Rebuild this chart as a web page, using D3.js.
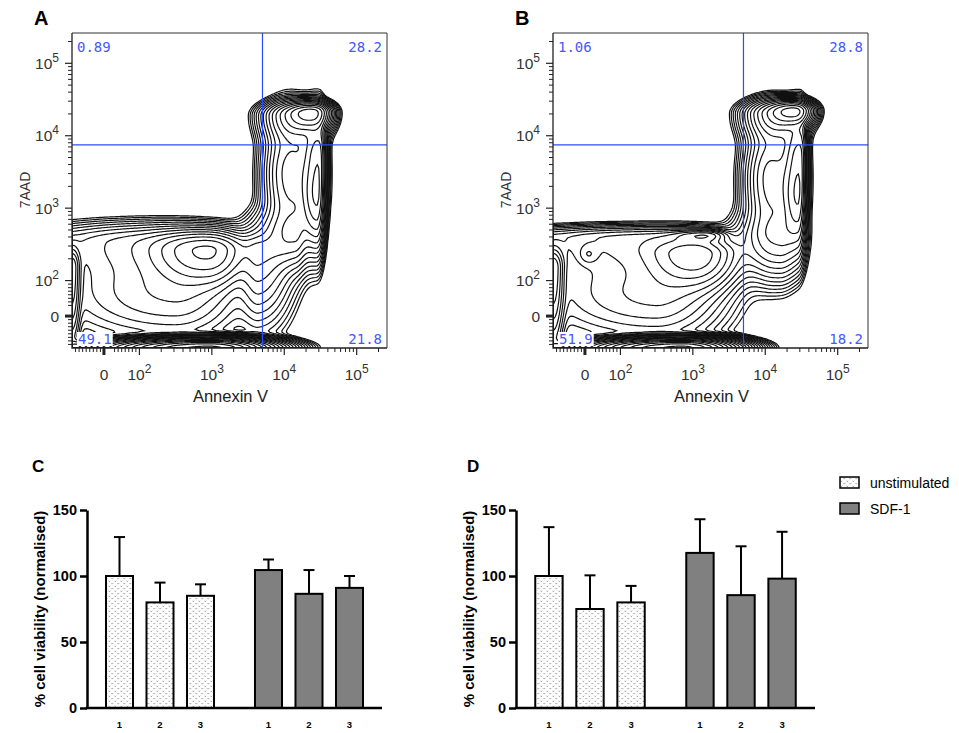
<!DOCTYPE html>
<html>
<head>
<meta charset="utf-8">
<script src="https://cdn.jsdelivr.net/npm/d3@7"></script>
<style>
  body { margin: 0; background: #fff; }
  svg { display: block; }
</style>
</head>
<body>
<svg id="fig" width="959" height="733"></svg>
<script>
// ---------------- Flow cytometry (Annexin V vs 7AAD) ----------------
// Quadrant gates (fluorescence units) and quadrant percentages [UL, UR, LL, LR]
const gateAnnexin = 5000;
const gate7AAD = 7500;
const quadA = [0.89, 28.2, 49.1, 21.8];
const quadB = [1.06, 28.8, 51.9, 18.2];

// Populations: centre (Annexin V, 7AAD), spread in decades [low side, high side], relative weight
// order: dead peak, dead cap, column ridge (upper, lower), column left, column foot,
//        early-apoptotic/live cluster, lower plateau, upper shoulder, axis floor, left edge, neck
const A_annexin = [25000, 15000, 30000, 28000, 12000, 14000, 900, 300, 150, 900, -90, 4500];
const A_aad     = [21000, 19000, 5000, 1200, 3000, 450, 260, 60, 330, -90, 150, 250];
const A_spreadX = [[0.18,0.12],[0.22,0.18],[0.12,0.05],[0.12,0.05],[0.18,0.20],[0.30,0.10],[0.40,0.28],[0.90,0.50],[0.90,0.60],[0.60,0.38],[0.02,0.06],[0.15,0.25]];
const A_spreadY = [[0.12,0.07],[0.20,0.10],[0.50,0.30],[0.35,0.30],[0.50,0.40],[0.25,0.20],[0.25,0.14],[0.35,0.33],[0.30,0.15],[0.02,0.06],[0.60,0.15],[0.50,0.15]];
const A_weight  = [1.0, 0.5, 0.6, 0.45, 0.3, 0.2, 0.5, 0.12, 0.1, 20.0, 0.3, 0.15];

const B_annexin = [26000, 15000, 30000, 28000, 12000, 16000, 1100, 300, 200, 700, -90, 10, 1500];
const B_aad     = [22000, 20000, 5000, 1200, 2500, 400, 230, 60, 380, -90, 150, 230, 420];
const B_spreadX = [[0.18,0.12],[0.22,0.18],[0.12,0.05],[0.12,0.05],[0.18,0.20],[0.30,0.15],[0.35,0.30],[0.90,0.50],[1.00,0.60],[0.55,0.33],[0.02,0.08],[0.08,0.08],[0.25,0.15]];
const B_spreadY = [[0.10,0.07],[0.20,0.10],[0.50,0.30],[0.35,0.30],[0.50,0.40],[0.30,0.20],[0.25,0.14],[0.35,0.33],[0.30,0.09],[0.02,0.06],[0.60,0.15],[0.08,0.08],[0.05,0.04]];
const B_weight  = [1.0, 0.5, 0.55, 0.45, 0.3, 0.2, 0.42, 0.13, 0.14, 20.0, 0.45, 0.08, 0.25];

// Axis ticks (fluorescence units)
const flowMajorTicks = [0, 1e2, 1e3, 1e4, 1e5];
const flowMajorLabels = [["0", ""], ["10", "2"], ["10", "3"], ["10", "4"], ["10", "5"]];
const flowMinorTicks = [-80, -70, -60, -50, -40, -30, -20, -10, 30, 40, 50, 60, 70, 80, 90,
  200, 300, 400, 500, 600, 700, 800, 900,
  2000, 3000, 4000, 5000, 6000, 7000, 8000, 9000,
  20000, 30000, 40000, 50000, 60000, 70000, 80000, 90000, 200000];
const flowDomain = [-90, 262144];

// ---------------- Cell viability bar charts ----------------
const samples = ["1", "2", "3"];
const conditions = ["unstimulated", "SDF-1"];
const C_unstim = [100, 80, 85];
const C_unstimErr = [29.5, 15, 8.7];
const C_sdf = [104.5, 86.5, 91];
const C_sdfErr = [8, 18, 9];
const D_unstim = [100, 75, 80];
const D_unstimErr = [37, 25.5, 12.5];
const D_sdf = [117.5, 85.5, 98];
const D_sdfErr = [25.5, 37, 35.5];
const viabilityTicks = [0, 50, 100, 150];

const svg = d3.select("#fig");
const defs = svg.append("defs");

// dotted fill used for unstimulated bars
const pat = defs.append("pattern").attr("id", "dots").attr("patternUnits", "userSpaceOnUse")
  .attr("width", 6).attr("height", 5);
pat.append("rect").attr("width", 6).attr("height", 5).attr("fill", "#fff");
pat.append("path").attr("d", "M0.6,0.8 l0.7,0.8 l0.7,-0.8 M3.6,3.3 l0.7,0.8 l0.7,-0.8")
  .attr("fill", "none").attr("stroke", "#555").attr("stroke-width", 0.65);

// Biexponential-style display: log decades above 100, linear near zero
const LIN_SPAN = 0.49;
const fwd = v => v >= 100 ? Math.log10(v) : 2 - LIN_SPAN + LIN_SPAN * v / 100;

function drawFlow(ox, letter, pop, quad, id) {
  const L = 72, T = 33, R = 387, B = 348;
  const g = svg.append("g").attr("transform", `translate(${ox},0)`);
  const xT = d3.scaleLinear().domain(flowDomain.map(fwd)).range([L, R]);
  const yT = d3.scaleLinear().domain(flowDomain.map(fwd)).range([B, T]);
  const sx = v => xT(fwd(v)), sy = v => yT(fwd(v));

  // density grid from the populations
  const cx = pop.annexin.map(fwd), cy = pop.aad.map(fwd);
  const cell = 1.5, nx = Math.ceil((R - L) / cell), ny = Math.ceil((B - T) / cell);
  const vals = new Float64Array(nx * ny);
  for (let j = 0; j < ny; j++) {
    const ty = yT.invert(T + (j + 0.5) * cell);
    for (let i = 0; i < nx; i++) {
      const tx = xT.invert(L + (i + 0.5) * cell);
      let s = 0;
      for (let k = 0; k < pop.weight.length; k++) {
        const dx = tx - cx[k], dy = ty - cy[k];
        const a = dx < 0 ? pop.spreadX[k][0] : pop.spreadX[k][1];
        const b = dy < 0 ? pop.spreadY[k][0] : pop.spreadY[k][1];
        s += pop.weight[k] * Math.exp(-0.5 * (dx * dx / (a * a) + dy * dy / (b * b)));
      }
      vals[j * nx + i] = s;
    }
  }
  // log-spaced density levels
  const levels = d3.range(24).map(i => 18 * Math.pow(0.7, i));
  const contours = d3.contours().size([nx, ny]).thresholds(levels)(vals);
  const proj = d3.geoTransform({ point(x, y) { this.stream.point(L + x * cell, T + y * cell); } });
  const path = d3.geoPath(proj);

  defs.append("clipPath").attr("id", id).append("rect")
    .attr("x", L).attr("y", T).attr("width", R - L).attr("height", B - T);

  g.append("g").attr("clip-path", `url(#${id})`)
    .selectAll("path").data(contours).join("path")
    .attr("d", path).attr("fill", "none").attr("stroke", "#111").attr("stroke-width", 1.2);

  // quadrant gate
  g.append("line").attr("x1", sx(gateAnnexin)).attr("x2", sx(gateAnnexin)).attr("y1", T).attr("y2", B)
    .attr("stroke", "#2b4cff").attr("stroke-width", 1.2);
  g.append("line").attr("x1", L).attr("x2", R).attr("y1", sy(gate7AAD)).attr("y2", sy(gate7AAD))
    .attr("stroke", "#2b4cff").attr("stroke-width", 1.2);

  // frame
  g.append("path").attr("d", `M${L},${T}H${R}V${B}`).attr("fill", "none").attr("stroke", "#333").attr("stroke-width", 1);
  g.append("path").attr("d", `M${L},${T}V${B}H${R}`).attr("fill", "none").attr("stroke", "#222").attr("stroke-width", 1.3);

  // quadrant percentages
  const qpos = [
    { x: L + 5, y: 52, anchor: "start" }, { x: R - 5, y: 52, anchor: "end" },
    { x: L + 6, y: 344, anchor: "start" }, { x: R - 5, y: 344, anchor: "end" }];
  quad.forEach((q, i) => {
    const t = g.append("text").attr("x", qpos[i].x).attr("y", qpos[i].y).attr("text-anchor", qpos[i].anchor)
      .attr("font-family", "DejaVu Sans Mono").attr("font-size", 14).attr("fill", "#4358ff").text(q);
    const bb = t.node().getBBox();
    g.insert("rect", () => t.node()).attr("x", bb.x - 1).attr("y", bb.y + 1).attr("width", bb.width + 2)
      .attr("height", bb.height - 2).attr("fill", "#fff");
  });

  // ticks
  const tickG = g.append("g").attr("stroke", "#222").attr("stroke-width", 1);
  flowMinorTicks.forEach(v => {
    tickG.append("line").attr("x1", L - 4).attr("x2", L).attr("y1", sy(v)).attr("y2", sy(v));
    tickG.append("line").attr("x1", sx(v)).attr("x2", sx(v)).attr("y1", B).attr("y2", B + 4);
  });
  flowMajorTicks.forEach(v => {
    const w = v === 0 ? 3 : 1.2;
    tickG.append("line").attr("x1", L - 7).attr("x2", L).attr("y1", sy(v)).attr("y2", sy(v)).attr("stroke-width", w);
    tickG.append("line").attr("x1", sx(v)).attr("x2", sx(v)).attr("y1", B).attr("y2", B + 7).attr("stroke-width", w);
  });
  flowMajorTicks.forEach((v, i) => {
    const [base, sup] = flowMajorLabels[i];
    const ty = g.append("text").attr("x", 59).attr("y", sy(v) + 5.5).attr("text-anchor", "end")
      .attr("font-family", "Liberation Sans, Arial").attr("font-size", 15.5).attr("fill", "#333").text(base);
    if (sup) ty.append("tspan").attr("dy", -7).attr("font-size", 12).text(sup);
    const tx = g.append("text").attr("x", sx(v)).attr("y", 380).attr("text-anchor", "middle")
      .attr("font-family", "Liberation Sans, Arial").attr("font-size", 15.5).attr("fill", "#333").text(base);
    if (sup) tx.append("tspan").attr("dy", -7).attr("font-size", 12).text(sup);
  });

  g.append("text").attr("x", (L + R) / 2 + 1).attr("y", 402).attr("text-anchor", "middle")
    .attr("font-family", "Liberation Sans, Arial").attr("font-size", 16.5).attr("fill", "#222").text("Annexin V");
  g.append("text").attr("transform", `translate(30,190) rotate(-90)`).attr("text-anchor", "middle")
    .attr("font-family", "Liberation Sans, Arial").attr("font-size", 14).attr("fill", "#333").text("7AAD");
  g.append("text").attr("x", 34).attr("y", 25).attr("font-family", "Liberation Sans, Arial")
    .attr("font-weight", "bold").attr("font-size", 20).attr("fill", "#000").text(letter);
}

drawFlow(0, "A", { annexin: A_annexin, aad: A_aad, spreadX: A_spreadX, spreadY: A_spreadY, weight: A_weight }, quadA, "clipA");
drawFlow(481, "B", { annexin: B_annexin, aad: B_aad, spreadX: B_spreadX, spreadY: B_spreadY, weight: B_weight }, quadB, "clipB");

// ---------------- bar charts ----------------
function drawBars(letter, letterX, x0, x1, unstim, unstimErr, sdf, sdfErr, labelX) {
  const g = svg.append("g");
  const y = d3.scaleLinear().domain([0, 150]).range([708, 510]);
  const groups = d3.scaleBand().domain(conditions).range([x0, x1]).paddingInner(0.275).paddingOuter(0.1275);
  const inner = d3.scaleBand().domain(samples).range([0, groups.bandwidth()]).paddingInner(0.333).paddingOuter(0);
  const fills = { "unstimulated": "url(#dots)", "SDF-1": "#808080" };
  const series = [
    { cond: "unstimulated", vals: unstim, errs: unstimErr },
    { cond: "SDF-1", vals: sdf, errs: sdfErr }];

  series.forEach(s => {
    samples.forEach((smp, i) => {
      const bx = groups(s.cond) + inner(smp), bw = inner.bandwidth(), cxm = bx + bw / 2;
      // error bar (upper)
      g.append("line").attr("x1", cxm).attr("x2", cxm).attr("y1", y(s.vals[i])).attr("y2", y(s.vals[i] + s.errs[i]))
        .attr("stroke", "#000").attr("stroke-width", 2);
      g.append("line").attr("x1", cxm - 5.5).attr("x2", cxm + 5.5).attr("y1", y(s.vals[i] + s.errs[i])).attr("y2", y(s.vals[i] + s.errs[i]))
        .attr("stroke", "#000").attr("stroke-width", 2);
      g.append("rect").attr("x", bx).attr("y", y(s.vals[i])).attr("width", bw).attr("height", y(0) - y(s.vals[i]))
        .attr("fill", fills[s.cond]).attr("stroke", "#000").attr("stroke-width", 2);
      g.append("text").attr("x", cxm).attr("y", 728).attr("text-anchor", "middle")
        .attr("font-family", "Liberation Sans, Arial").attr("font-weight", "bold").attr("font-size", 9.5).text(smp);
    });
  });

  const ax = g.append("g").attr("transform", `translate(${x0},0)`)
    .call(d3.axisLeft(y).tickValues(viabilityTicks).tickSize(7).tickSizeOuter(0).tickPadding(3));
  ax.select(".domain").attr("stroke-width", 2.5);
  ax.selectAll(".tick line").attr("stroke-width", 2.5);
  ax.selectAll(".tick text").attr("font-family", "Liberation Sans, Arial").attr("font-weight", "bold")
    .attr("font-size", 14.5).attr("fill", "#000");
  g.append("line").attr("x1", x0 - 1.25).attr("x2", x1).attr("y1", y(0)).attr("y2", y(0))
    .attr("stroke", "#000").attr("stroke-width", 2.5);

  g.append("text").attr("transform", `translate(${labelX},609) rotate(-90)`).attr("text-anchor", "middle")
    .attr("dominant-baseline", "central")
    .attr("font-family", "Liberation Sans, Arial").attr("font-weight", "bold").attr("font-size", 15).text("% cell viability (normalised)");
  g.append("text").attr("x", letterX).attr("y", 472).attr("font-family", "Liberation Sans, Arial")
    .attr("font-weight", "bold").attr("font-size", 17).text(letter);
}

drawBars("C", 32, 87, 382, C_unstim, C_unstimErr, C_sdf, C_sdfErr, 39);
drawBars("D", 467, 516, 815, D_unstim, D_unstimErr, D_sdf, D_sdfErr, 468);

// legend
const leg = svg.append("g");
conditions.forEach((c, i) => {
  const yy = 477 + i * 26;
  leg.append("rect").attr("x", 840).attr("y", yy).attr("width", 19).attr("height", 11)
    .attr("fill", c === "SDF-1" ? "#808080" : "url(#dots)").attr("stroke", "#000").attr("stroke-width", 1.5);
  leg.append("text").attr("x", 870).attr("y", yy + 10.5).attr("font-family", "Liberation Sans, Arial")
    .attr("font-size", 14).attr("fill", "#000").text(c);
});
</script>
</body>
</html>
